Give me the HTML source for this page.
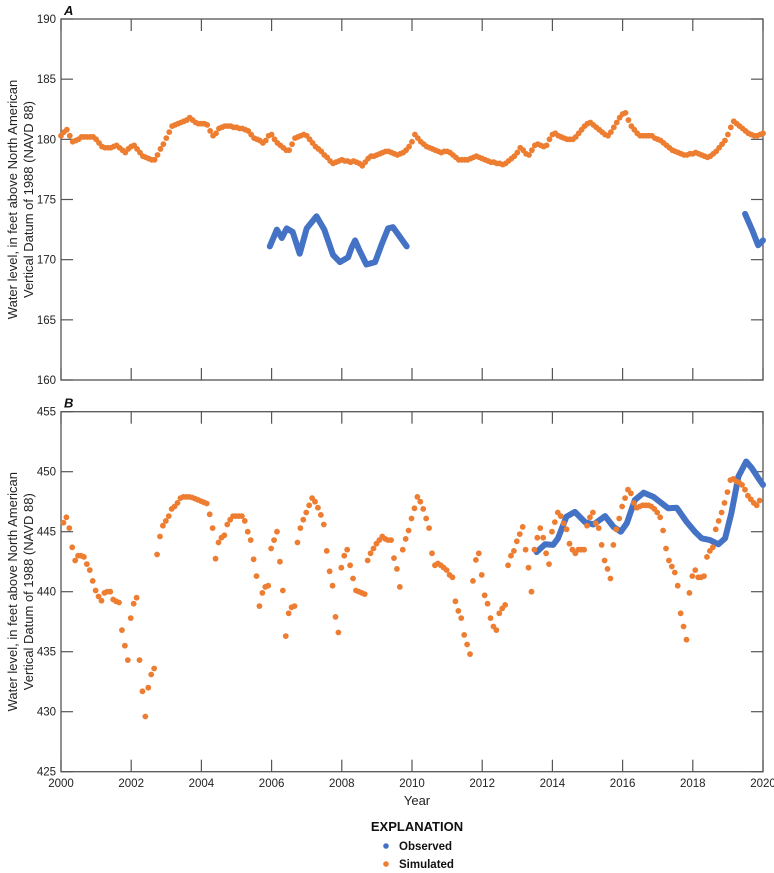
<!DOCTYPE html>
<html><head><meta charset="utf-8">
<style>
html,body{margin:0;padding:0;background:#fff;}
svg{display:block;font-family:"Liberation Sans Narrow","Liberation Sans",sans-serif;}
</style></head>
<body>
<svg id="chart" width="774" height="873" viewBox="0 0 774 873">
  <g id="panelA"></g>
  <g id="panelB"></g>
  <text x="417" y="805" text-anchor="middle" font-size="13" fill="#222">Year</text>
  <g>
    <text x="417" y="831" text-anchor="middle" font-size="13" font-weight="bold" fill="#111">EXPLANATION</text>
    <g>
      <circle cx="386" cy="846" r="2.8" fill="#4472C4"></circle>
      <text x="399" y="850" font-size="11.5" font-weight="bold" fill="#111">Observed</text>
    </g>
    <g>
      <circle cx="386" cy="864" r="2.8" fill="#ED7D31"></circle>
      <text x="399" y="868" font-size="11.5" font-weight="bold" fill="#111">Simulated</text>
    </g>
  </g>
</svg>
<script>
// ---------- data ----------
const xTicks = [2000,2002,2004,2006,2008,2010,2012,2014,2016,2018,2020];
const yTicksA = [160,165,170,175,180,185,190];
const yTicksB = [425,430,435,440,445,450,455];
const simStartA = 2000.0;
const simStartB = 2000.07;
const simStepYears = 1/12;
const simA = [
180.3,180.6,180.8,180.3,179.8,179.9,180.0,180.2,180.2,180.2,180.2,180.2,
180.0,179.7,179.4,179.3,179.3,179.3,179.4,179.5,179.3,179.1,178.9,179.2,
179.4,179.5,179.2,178.9,178.6,178.5,178.4,178.3,178.3,178.7,179.2,179.6,
180.1,180.6,181.1,181.2,181.3,181.4,181.5,181.6,181.8,181.6,181.4,181.3,
181.3,181.3,181.2,180.7,180.3,180.5,180.9,181.0,181.1,181.1,181.1,181.0,
181.0,180.9,180.9,180.8,180.7,180.4,180.1,180.0,179.9,179.7,179.9,180.3,
180.4,180.0,179.7,179.5,179.3,179.1,179.1,179.6,180.1,180.2,180.3,180.4,
180.3,180.0,179.7,179.4,179.2,179.0,178.7,178.5,178.2,178.0,178.1,178.2,
178.3,178.2,178.2,178.1,178.2,178.1,178.0,177.8,178.1,178.4,178.6,178.6,
178.7,178.8,178.9,179.0,179.0,178.9,178.8,178.7,178.8,178.9,179.1,179.4,
179.8,180.4,180.1,179.8,179.6,179.4,179.3,179.2,179.1,179.0,178.9,179.0,
179.0,178.9,178.7,178.5,178.3,178.3,178.3,178.3,178.4,178.5,178.6,178.5,
178.4,178.3,178.2,178.1,178.1,178.0,178.0,177.9,178.0,178.2,178.4,178.6,
178.9,179.3,179.1,178.8,178.7,179.1,179.5,179.6,179.5,179.4,179.5,180.0,
180.4,180.5,180.3,180.2,180.1,180.0,180.0,180.0,180.2,180.5,180.8,181.1,
181.3,181.4,181.2,181.0,180.8,180.6,180.4,180.3,180.6,181.0,181.4,181.8,
182.1,182.2,181.6,181.1,180.8,180.5,180.3,180.3,180.3,180.3,180.3,180.1,
180.0,179.9,179.7,179.5,179.3,179.1,179.0,178.9,178.8,178.7,178.7,178.8,
178.8,178.9,178.8,178.7,178.6,178.5,178.6,178.8,179.0,179.3,179.6,179.9,
180.4,181.0,181.5,181.3,181.1,180.9,180.7,180.5,180.4,180.3,180.3,180.4,180.5
];
const obsA1Years = [2005.95,2006.15,2006.29,2006.43,2006.6,2006.8,2007.0,2007.28,2007.5,2007.75,2007.95,2008.18,2008.28,2008.38,2008.5,2008.7,2008.95,2009.14,2009.32,2009.46,2009.85];
const obsA1Values = [171.1,172.5,171.8,172.6,172.3,170.5,172.6,173.6,172.5,170.4,169.8,170.2,171.0,171.6,170.8,169.6,169.8,171.3,172.6,172.7,171.1];
const obsA2Years = [2019.49,2019.7,2019.86,2020.0];
const obsA2Values = [173.8,172.4,171.2,171.6];
const simB = [
445.75,446.2,445.3,443.7,442.6,443.0,443.0,442.9,442.3,441.8,440.9,440.1,
439.6,439.25,439.9,440.0,440.0,439.35,439.2,439.1,436.8,435.5,434.3,437.8,
439.0,439.5,434.3,431.7,429.6,432.0,433.1,433.6,443.1,444.6,445.5,445.9,
446.3,446.9,447.1,447.4,447.8,447.9,447.9,447.9,447.85,447.75,447.65,447.55,
447.45,447.35,446.45,445.3,442.75,444.1,444.5,444.7,445.6,446.0,446.3,446.3,
446.3,446.3,445.9,445.0,444.3,442.7,441.3,438.8,439.9,440.4,440.5,443.6,
444.3,445.0,442.5,440.1,436.3,438.2,438.7,438.8,444.1,445.3,446.0,446.6,
447.2,447.8,447.5,447.0,446.4,445.6,443.4,441.7,440.5,437.9,436.6,442.0,
443.0,443.5,442.2,441.1,440.1,440.0,439.9,439.8,442.6,443.2,443.6,444.0,
444.3,444.6,444.4,444.3,444.3,442.8,441.9,440.4,
443.5,444.4,445.1,446.1,446.95,447.9,447.5,446.9,446.1,445.3,443.2,442.2,
442.35,442.2,442.0,441.8,441.4,441.2,439.2,438.4,437.8,436.4,435.6,434.8,
440.9,442.65,443.2,441.4,439.7,439.0,437.8,437.1,436.8,438.2,438.6,438.9,
442.2,443.0,443.4,444.2,444.8,445.4,443.5,442.0,440.0,
443.5,444.5,445.3,444.5,443.2,442.3,445.0,445.8,446.6,446.3,445.7,445.2,
444.0,443.5,443.2,443.5,443.5,443.5,445.5,446.2,446.6,445.7,445.3,443.9,
442.6,441.9,441.1,443.9,445.2,446.1,447.1,447.8,448.5,448.2,447.4,447.0,
447.1,447.2,447.2,447.2,447.1,446.9,446.6,446.2,445.1,443.6,442.6,442.1,
441.6,440.5,438.2,437.1,436.0,439.9,441.3,441.8,441.2,441.2,441.3,442.9,
443.4,443.7,445.2,445.9,446.6,447.4,448.3,449.3,449.4,449.2,449.1,448.9,
448.5,448.0,447.7,447.4,447.2,447.6
];
const obsBYears = [2013.55,2013.79,2014.02,2014.16,2014.4,2014.64,2014.93,2015.17,2015.5,2015.74,2015.95,2016.12,2016.35,2016.6,2016.88,2017.3,2017.54,2017.83,2018.06,2018.25,2018.49,2018.73,2018.92,2019.1,2019.3,2019.52,2019.68,2019.87,2020.0];
const obsBValues = [443.3,443.95,443.9,444.45,446.25,446.65,445.8,445.6,446.3,445.4,445.0,445.7,447.65,448.25,447.9,446.95,447.0,445.8,445.0,444.45,444.3,443.95,444.45,446.55,449.6,450.85,450.3,449.45,448.9];

// ---------- drawing ----------
const NS = 'http://www.w3.org/2000/svg';
const X0 = 61, X1 = 763;
function xScale(yr){ return X0 + (yr-2000)/20*(X1-X0); }
function mk(tag, attrs, parent){
  const e = document.createElementNS(NS, tag);
  for (const k in attrs) e.setAttribute(k, attrs[k]);
  parent.appendChild(e);
  return e;
}
function drawPanel(g, top, bottom, ymin, ymax, yTicks, label, sim, simStart, obsSets, nm){
  const yS = v => bottom - (v-ymin)/(ymax-ymin)*(bottom-top);
  const ax = '#555';
  const frame = mk('rect', {x:X0, y:top, width:X1-X0, height:bottom-top, fill:'none', stroke:ax, 'stroke-width':1.3}, g);
  
  
  const lab = mk('text', {x:X0+3, y:top-4, 'font-size':13, 'font-weight':'bold', 'font-style':'italic', fill:'#111'}, g);
  lab.textContent = label;
  
  
  yTicks.forEach(v => {
    const y = yS(v);
    const t1 = mk('line', {x1:X0, x2:X0+12, y1:y, y2:y, stroke:ax, 'stroke-width':1.2}, g);
    
    
    const t2 = mk('line', {x1:X1-12, x2:X1, y1:y, y2:y, stroke:ax, 'stroke-width':1.2}, g);
    
    
    const tl = mk('text', {x:X0-5, y:y+4, 'text-anchor':'end', 'font-size':11.5, fill:'#222'}, g);
    tl.textContent = v;
    
    
  });
  xTicks.forEach(yr => {
    const x = xScale(yr);
    const a = mk('line', {x1:x, x2:x, y1:top, y2:top+12, stroke:ax, 'stroke-width':1.2}, g);
    
    
    const b = mk('line', {x1:x, x2:x, y1:bottom-12, y2:bottom, stroke:ax, 'stroke-width':1.2}, g);
    
    
  });
  const t = mk('text', {transform:'translate(17,'+((top+bottom)/2)+') rotate(-90)', 'text-anchor':'middle', 'font-size':13, fill:'#222'}, g);
  
  
  const s1 = mk('tspan', {x:0, dy:0}, t); s1.textContent = 'Water level, in feet above North American';
  const s2 = mk('tspan', {x:0, dy:16}, t); s2.textContent = 'Vertical Datum of 1988 (NAVD 88)';
  // observed
  obsSets.forEach(set => {
    const pts = set[0].map((yr,i) => xScale(yr).toFixed(1)+','+yS(set[1][i]).toFixed(1)).join(' ');
    const pl = mk('polyline', {points:pts, fill:'none', stroke:'#4472C4', 'stroke-width':6, 'stroke-linejoin':'round', 'stroke-linecap':'round'}, g);
    
    
  });
  // simulated
  sim.forEach((v,i) => {
    const c = mk('circle', {cx:xScale(simStart + i*simStepYears), cy:yS(v), r:2.9, fill:'#ED7D31'}, g);
    
    
  });
}
drawPanel(document.getElementById('panelA'), 19, 380, 160, 190, yTicksA, 'A', simA, simStartA, [[obsA1Years,obsA1Values],[obsA2Years,obsA2Values]], 'panel-a');
drawPanel(document.getElementById('panelB'), 411.7, 771.7, 425, 455, yTicksB, 'B', simB, simStartB, [[obsBYears,obsBValues]], 'panel-b');
// x tick labels
const svg = document.getElementById('chart');
xTicks.forEach(yr => {
  const tl = mk('text', {x:xScale(yr), y:787, 'text-anchor':'middle', 'font-size':11.5, fill:'#222'}, svg);
  tl.textContent = yr;
  
  
});
</script>
</body></html>
